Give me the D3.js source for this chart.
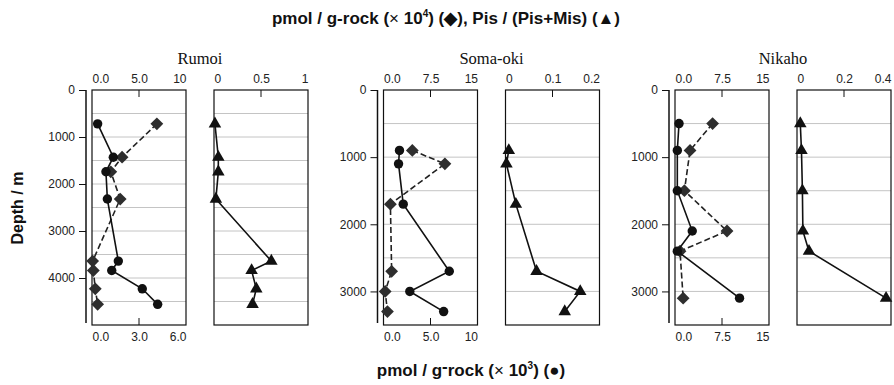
<!DOCTYPE html>
<html>
<head>
<meta charset="utf-8">
<script src="https://cdn.jsdelivr.net/npm/d3@7"></script>
<style>
  body { margin: 0; background: #fff; }
  svg { display: block; }
  .tick text { font-family: Arial, "Liberation Sans", sans-serif; font-size: 12px; fill: #222; }
  .grid line { stroke: #c4c4c4; stroke-width: 1; }
  .box { fill: none; stroke: #111; stroke-width: 1.2; }
  .title { font-family: Arial, "Liberation Sans", sans-serif; font-weight: bold; font-size: 17px; fill: #111; }
  .site { font-family: "Liberation Serif", "Times New Roman", serif; font-size: 16.5px; fill: #111; }
</style>
</head>
<body>
<svg id="chart" width="894" height="385"></svg>
<script>
const sites = ['Rumoi', 'Soma-oki', 'Nikaho'];

// depths (m) of samples
const rumoiDepth   = [720, 1430, 1740, 2320, 3640, 3840, 4230, 4560];
const somaDepth    = [900, 1100, 1700, 2700, 3000, 3300];
const nikahoDepth  = [500, 900, 1500, 2100, 2400, 3100];

// pmol / g-rock (x10^4) — diamonds
const rumoiDiamond  = [6.9, 3.2, 2.0, 3.0, 0.07, 0.14, 0.35, 0.6];
const somaDiamond   = [4.6, 9.8, 1.1, 1.3, 0.27, 0.63];
const nikahoDiamond = [6.0, 2.4, 1.5, 8.3, 0.8, 1.3];

// pmol / g-rock (x10^3) — circles
const rumoiCircle  = [0.36, 1.36, 0.89, 0.98, 1.68, 1.26, 3.21, 4.19];
const somaCircle   = [1.7, 1.6, 2.1, 7.0, 2.8, 6.4];
const nikahoCircle = [0.64, 0.37, 0.37, 2.75, 0.37, 10.3];

// Pis / (Pis+Mis) — triangles
const rumoiTriangle  = [0.01, 0.046, 0.046, 0.02, 0.61, 0.40, 0.45, 0.41];
const somaTriangle   = [0.007, 0.002, 0.022, 0.066, 0.159, 0.126];
const nikahoTriangle = [0.014, 0.019, 0.023, 0.025, 0.051, 0.379];

// axis domains and tick labels
const depthMax      = [5000, 3500, 3500];
const depthTicks    = [[0, 1000, 2000, 3000, 4000], [0, 1000, 2000, 3000], [0, 1000, 2000, 3000]];
const diamondMax    = [10, 15, 15];
const diamondLabels = [['0.0', '5.0', '10'], ['0.0', '7.5', '15'], ['0.0', '7.5', '15']];
const circleMax     = [6, 10, 15];
const circleLabels  = [['0.0', '3.0', '6.0'], ['0.0', '5.0', '10'], ['0.0', '7.5', '15']];
const triangleMax   = [1, 0.2, 0.4];
const triangleLabels = [['0', '0.5', '1'], ['0', '0.1', '0.2'], ['0', '0.2', '0.4']];

const depths    = [rumoiDepth, somaDepth, nikahoDepth];
const diamonds  = [rumoiDiamond, somaDiamond, nikahoDiamond];
const circles   = [rumoiCircle, somaCircle, nikahoCircle];
const triangles = [rumoiTriangle, somaTriangle, nikahoTriangle];

const svg = d3.select('#chart');
const yTop = 90, yBottom = 325, boxW = 94;
const box1X = [92, 383.5, 675];
const gap = 28;

function tickAxis(g, axis, scale, labels) {
    const dom = scale.domain();
    const vals = [dom[0], (dom[0] + dom[1]) / 2, dom[1]];
    g.call(axis(scale).tickValues(vals).tickFormat((d, i) => labels[i]).tickSize(0).tickPadding(7));
    g.select('.domain').remove();
    g.selectAll('.tick text').attr('text-anchor', (d, i) => i === 0 ? 'start' : i === 2 ? 'end' : 'middle');
}

sites.forEach((site, s) => {
    const x1 = box1X[s], x2 = x1 + boxW + gap;
    const y = d3.scaleLinear().domain([0, depthMax[s]]).range([yTop, yBottom]);
    const xDia = d3.scaleLinear().domain([0, diamondMax[s]]).range([x1, x1 + boxW]);
    const xCir = d3.scaleLinear().domain([0, circleMax[s]]).range([x1, x1 + boxW]);
    const xTri = d3.scaleLinear().domain([0, triangleMax[s]]).range([x2, x2 + boxW]);
    const grid = d3.range(500, depthMax[s], 500);

    const base = svg.append('g');

    // grid lines
    [x1, x2].forEach(bx => {
        base.append('g').attr('class', 'grid').selectAll('line').data(grid).enter().append('line')
            .attr('x1', bx).attr('x2', bx + boxW)
            .attr('y1', d => y(d)).attr('y2', d => y(d));
    });

    // depth axis
    const ya = base.append('g').attr('transform', `translate(${x1 - 6},0)`)
        .call(d3.axisLeft(y).tickValues(depthTicks[s]).tickFormat(d3.format('d')).tickSizeOuter(0).tickSizeInner(7).tickPadding(4));
    ya.select('.domain').attr('stroke', '#111').attr('stroke-width', 1.5).attr('d', `M0,${yTop}V${yBottom - 2}`);
    ya.selectAll('.tick line').attr('stroke', '#111');

    // boxes
    base.append('rect').attr('class', 'box').attr('x', x1).attr('y', yTop).attr('width', boxW).attr('height', yBottom - yTop);
    base.append('rect').attr('class', 'box').attr('x', x2).attr('y', yTop).attr('width', boxW).attr('height', yBottom - yTop);

    // inner mid ticks
    const midD = diamondMax[s] / 2, midC = circleMax[s] / 2, midT = triangleMax[s] / 2;
    base.append('line').attr('x1', xDia(midD)).attr('x2', xDia(midD)).attr('y1', yTop).attr('y2', yTop + 7).attr('stroke', '#111');
    base.append('line').attr('x1', xCir(midC)).attr('x2', xCir(midC)).attr('y1', yBottom).attr('y2', yBottom - 7).attr('stroke', '#111');
    base.append('line').attr('x1', xTri(midT)).attr('x2', xTri(midT)).attr('y1', yTop).attr('y2', yTop + 7).attr('stroke', '#111');

    // tick labels
    tickAxis(base.append('g').attr('transform', `translate(0,${yTop})`), d3.axisTop, xDia, diamondLabels[s]);
    tickAxis(base.append('g').attr('transform', `translate(0,${yBottom})`), d3.axisBottom, xCir, circleLabels[s]);
    tickAxis(base.append('g').attr('transform', `translate(0,${yTop})`), d3.axisTop, xTri, triangleLabels[s]);

    // site title
    base.append('text').attr('class', 'site').attr('x', (x1 + x2 + boxW) / 2).attr('y', 64)
        .attr('text-anchor', 'middle').text(site);

    const dep = depths[s];

    // diamonds: dashed
    const dPts = dep.map((d, i) => [xDia(diamonds[s][i]), y(d)]);
    base.append('path').attr('d', d3.line()(dPts)).attr('fill', 'none')
        .attr('stroke', '#222').attr('stroke-width', 1.6).attr('stroke-dasharray', '6,3');
    base.selectAll(null).data(dPts).enter().append('path')
        .attr('d', d3.symbol(d3.symbolSquare, 82)())
        .attr('transform', p => `translate(${p[0]},${p[1]}) rotate(45)`)
        .attr('fill', '#2e2e2e');

    // circles: solid
    const cPts = dep.map((d, i) => [xCir(circles[s][i]), y(d)]);
    base.append('path').attr('d', d3.line()(cPts)).attr('fill', 'none')
        .attr('stroke', '#111').attr('stroke-width', 1.6);
    base.selectAll(null).data(cPts).enter().append('circle')
        .attr('cx', p => p[0]).attr('cy', p => p[1]).attr('r', 4.7).attr('fill', '#111');

    // triangles
    const tPts = dep.map((d, i) => [xTri(triangles[s][i]), y(d)]);
    base.append('path').attr('d', d3.line()(tPts)).attr('fill', 'none')
        .attr('stroke', '#111').attr('stroke-width', 1.6);
    base.selectAll(null).data(tPts).enter().append('path')
        .attr('d', d3.symbol(d3.symbolTriangle, 68)())
        .attr('transform', p => `translate(${p[0]},${p[1]})`)
        .attr('fill', '#111');
});

// titles
const t1 = svg.append('text').attr('class', 'title').attr('x', 446).attr('y', 24).attr('text-anchor', 'middle');
t1.append('tspan').text('pmol / g-rock (');
t1.append('tspan').attr('font-weight', 'normal').text('× ');
t1.append('tspan').text('10');
t1.append('tspan').attr('font-size', '10px').attr('dy', -7).text('4');
t1.append('tspan').attr('dy', 7).text(') (◆),  Pis / (Pis+Mis) (▲)');

const t2 = svg.append('text').attr('class', 'title').attr('x', 471).attr('y', 376).attr('text-anchor', 'middle');
t2.append('tspan').text('pmol / g');
t2.append('tspan').attr('dy', -4).text('-');
t2.append('tspan').attr('dy', 4).text('rock (');
t2.append('tspan').attr('font-weight', 'normal').text('× ');
t2.append('tspan').text('10');
t2.append('tspan').attr('font-size', '10px').attr('dy', -7).text('3');
t2.append('tspan').attr('dy', 7).text(') (●)');

svg.append('text').attr('class', 'title').style('font-size', '16px')
    .attr('transform', 'translate(23,208) rotate(-90)')
    .attr('text-anchor', 'middle').text('Depth / m');
</script>
</body>
</html>
